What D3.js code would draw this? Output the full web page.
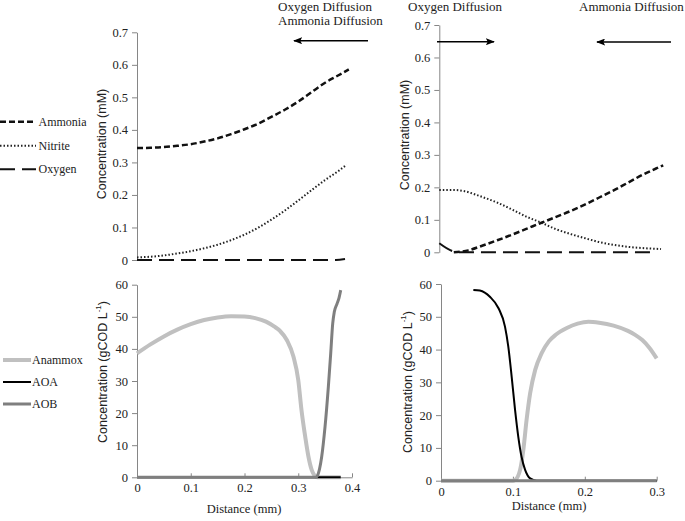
<!DOCTYPE html>
<html><head><meta charset="utf-8">
<script src="https://cdn.jsdelivr.net/npm/d3@7/dist/d3.min.js"></script>
<style>
body{margin:0;background:#fff;}
svg{display:block;}
.serif, .tick text{font-family:'Liberation Serif','Times New Roman',Times,serif !important;}
.tick text{font-size:12.5px;fill:#222;}
.sans{font-family:'Liberation Sans',Arial,Helvetica,sans-serif;}
.axis path,.axis line{stroke:#868686;stroke-width:1;}
</style></head><body>
<svg id="c" width="685" height="521"></svg>
<script>
// ---------- data ----------
const concTicks = [0,0.1,0.2,0.3,0.4,0.5,0.6,0.7];
const bioTicks = [0,10,20,30,40,50,60];
const leftXTicks = [0,0.1,0.2,0.3,0.4];
const rightXTicks = [0,0.1,0.2,0.3];

// top-left (mM)
const tlAmmonia = [[0,0.344],[0.025,0.345],[0.05,0.347],[0.075,0.351],[0.1,0.356],[0.125,0.364],[0.15,0.374],[0.175,0.387],[0.2,0.402],[0.225,0.419],[0.25,0.44],[0.275,0.462],[0.3,0.487],[0.325,0.516],[0.35,0.545],[0.375,0.568],[0.394,0.586]];
const tlNitrite = [[0,0.008],[0.025,0.01],[0.05,0.014],[0.075,0.02],[0.1,0.027],[0.125,0.036],[0.15,0.047],[0.175,0.061],[0.2,0.078],[0.225,0.099],[0.25,0.124],[0.275,0.152],[0.3,0.183],[0.325,0.215],[0.35,0.246],[0.375,0.274],[0.39,0.293]];
const tlOxygen = [[0,0],[0.37,0],[0.387,0.003]];

// top-right (mM)
const trAmmonia = [[0.02,0],[0.04,0.006],[0.06,0.021],[0.08,0.037],[0.1,0.054],[0.12,0.072],[0.141,0.091],[0.16,0.108],[0.18,0.126],[0.2,0.146],[0.22,0.168],[0.24,0.19],[0.26,0.214],[0.28,0.238],[0.3,0.259],[0.309,0.268]];
const trNitrite = [[0,0.192],[0.02,0.192],[0.035,0.188],[0.056,0.173],[0.08,0.153],[0.102,0.13],[0.12,0.11],[0.141,0.091],[0.16,0.072],[0.18,0.057],[0.2,0.044],[0.22,0.032],[0.24,0.023],[0.26,0.017],[0.28,0.013],[0.306,0.01]];
const trOxygen = [[0,0.028],[0.021,0.002],[0.03,0],[0.3,0]];

// bottom-left (gCOD/L)
const blAnammox = [[0,38.6],[0.025,41.4],[0.05,43.9],[0.075,46],[0.1,47.7],[0.125,49],[0.15,49.8],[0.175,50.2],[0.2,50.1],[0.22,49.6],[0.24,48.5],[0.255,47],[0.266,45.6],[0.279,42.7],[0.291,37.6],[0.3,30.3],[0.306,21],[0.313,12.6],[0.319,6.4],[0.325,2.3],[0.331,0.4],[0.335,0],[0.379,0]];
const blAOA = [[0,0],[0.379,0]];
const blAOB = [[0,0],[0.333,0],[0.3354,0.4],[0.3436,6.4],[0.3498,15.7],[0.356,28.2],[0.3604,38.6],[0.3641,47.9],[0.367,51.5],[0.372,54],[0.376,56],[0.379,58.3]];

// bottom-right (gCOD/L)
const brAnammox = [[0,0],[0.1,0],[0.103,0.2],[0.11,3.3],[0.1145,9.4],[0.119,18.5],[0.124,26.7],[0.131,33.8],[0.14,38.9],[0.15,42.5],[0.16,44.6],[0.175,46.6],[0.19,47.9],[0.205,48.5],[0.22,48.2],[0.24,47.3],[0.26,45.7],[0.27,44.5],[0.28,42.9],[0.29,40.5],[0.3,37.3]];
const brAOA = [[0.045,58.2],[0.054,58],[0.068,56.1],[0.08,52.6],[0.089,47],[0.0936,40.9],[0.0983,31.7],[0.103,21.6],[0.1075,13.4],[0.112,7.3],[0.117,3.3],[0.124,0.7],[0.133,0],[0.3,0]];
const brAOB = [[0,0],[0.3,0]];

const topLegend = ["Ammonia","Nitrite","Oxygen"];
const bottomLegend = ["Anammox","AOA","AOB"];
const yTitleTop = "Concentration (mM)";
const yTitleBottom = "Concentration (gCOD L";
const xTitle = "Distance (mm)";
const oxyLabel = "Oxygen Diffusion";
const ammLabel = "Ammonia Diffusion";

// ---------- styles ----------
const st = {
  Ammonia:{stroke:"#111",w:2.5,dash:"6,3"},
  Nitrite:{stroke:"#222",w:2,dash:"1.5,2"},
  Oxygen:{stroke:"#111",w:2,dash:"15,7"},
  Anammox:{stroke:"#c0c0c0",w:4,dash:null},
  AOA:{stroke:"#000",w:2,dash:null},
  AOB:{stroke:"#7f7f7f",w:3,dash:null}
};

const svg = d3.select("#c");

svg.append("defs").append("marker")
  .attr("id","ah").attr("viewBox","0 0 10 10").attr("refX",9).attr("refY",5)
  .attr("markerWidth",9).attr("markerHeight",7).attr("markerUnits","userSpaceOnUse")
  .attr("orient","auto").attr("preserveAspectRatio","none")
  .append("path").attr("d","M0,0L10,5L0,10L2,5Z").attr("fill","#000");

function panel(o){
  const x = d3.scaleLinear().domain(o.xd).range(o.xr);
  const y = d3.scaleLinear().domain(o.yd).range(o.yr);
  const g = svg.append("g");
  g.append("g").attr("class","axis serif").attr("transform",`translate(${o.xr[0]},0)`)
    .call(d3.axisLeft(y).tickValues(o.yt).tickSizeInner(5).tickSizeOuter(0).tickPadding(4).tickFormat(d=>String(d)))
    .attr("font-family",null);
  if(o.xt){
    g.append("g").attr("class","axis serif").attr("transform",`translate(0,${o.yr[0]})`)
      .call(d3.axisBottom(x).tickValues(o.xt).tickSizeInner(-4).tickSizeOuter(0).tickPadding(6).tickFormat(d=>String(d)))
      .attr("font-family",null);
  }
  const line = d3.line().x(d=>x(d[0])).y(d=>y(d[1])).curve(d3.curveMonotoneX);
  o.series.forEach(s=>{
    const c = st[s.name];
    g.append("path").datum(s.data).attr("d",line).attr("fill","none")
      .attr("stroke",c.stroke).attr("stroke-width",c.w)
      .attr("stroke-dasharray",c.dash).attr("stroke-linejoin","round");
  });
  return {x,y,g};
}

panel({xd:[0,0.4],xr:[137,352],yd:[0,0.7],yr:[260,32.3],yt:concTicks,
  series:[{name:"Oxygen",data:tlOxygen},{name:"Nitrite",data:tlNitrite},{name:"Ammonia",data:tlAmmonia}]});
panel({xd:[0,0.3],xr:[439.3,656.7],yd:[0,0.7],yr:[252.3,25],yt:concTicks,
  series:[{name:"Oxygen",data:trOxygen},{name:"Nitrite",data:trNitrite},{name:"Ammonia",data:trAmmonia}]});
panel({xd:[0,0.4],xr:[137,352],yd:[0,60],yr:[477.3,284.7],yt:bioTicks,xt:leftXTicks,
  series:[{name:"Anammox",data:blAnammox},{name:"AOA",data:blAOA},{name:"AOB",data:blAOB}]});
panel({xd:[0,0.3],xr:[441,656.7],yd:[0,60],yr:[480.7,284],yt:bioTicks,xt:rightXTicks,
  series:[{name:"Anammox",data:brAnammox},{name:"AOA",data:brAOA},{name:"AOB",data:brAOB}]});

// axis titles
function vtitle(x,y,txt,sup){
  const t = svg.append("text").attr("class","sans").attr("transform",`translate(${x},${y}) rotate(-90)`)
    .attr("text-anchor","middle").attr("dominant-baseline","central")
    .attr("font-size",12.5).attr("fill","#222").text(txt);
  if(sup){
    t.append("tspan").attr("font-size",8).attr("dy",-5).text(sup);
    t.append("tspan").attr("dy",5).text(")");
  }
}
vtitle(102,144,yTitleTop);
vtitle(405,135,yTitleTop);
vtitle(103,372,yTitleBottom,"-1");
vtitle(408,382,yTitleBottom,"-1");

function htext(x,y,txt,anchor,size){
  svg.append("text").attr("class","serif").attr("x",x).attr("y",y).attr("text-anchor",anchor||"start")
    .attr("font-size",size||12.5).attr("fill","#222").text(txt);
}
htext(244,513,xTitle,"middle",12.5);
htext(549,510,xTitle,"middle",12.5);

// diffusion annotations
htext(278,11,oxyLabel,"start",13);
htext(278,25,ammLabel,"start",13);
htext(408,11,oxyLabel,"start",13);
htext(579,11,ammLabel,"start",13);
function arrow(x1,y1,x2,y2){
  svg.append("line").attr("x1",x1).attr("y1",y1).attr("x2",x2).attr("y2",y2)
    .attr("stroke","#000").attr("stroke-width",1.5).attr("marker-end","url(#ah)");
}
arrow(368,40.7,294,40.7);
arrow(437,41.7,494,41.7);
arrow(671,42,597,42);

// legends
topLegend.forEach((n,i)=>{
  const yy = [121.7,145.7,169.3][i];
  const c = st[n];
  svg.append("line").attr("x1",0).attr("x2",36).attr("y1",yy).attr("y2",yy)
    .attr("stroke",c.stroke).attr("stroke-width",c.w).attr("stroke-dasharray",c.dash);
  htext(38.5,yy+4,n,"start",12);
});
bottomLegend.forEach((n,i)=>{
  const yy = 360+i*22;
  const c = st[n];
  svg.append("line").attr("x1",3).attr("x2",31).attr("y1",yy).attr("y2",yy)
    .attr("stroke",c.stroke).attr("stroke-width",c.w);
  htext(32,yy+4,n,"start",12);
});
</script></body></html>
